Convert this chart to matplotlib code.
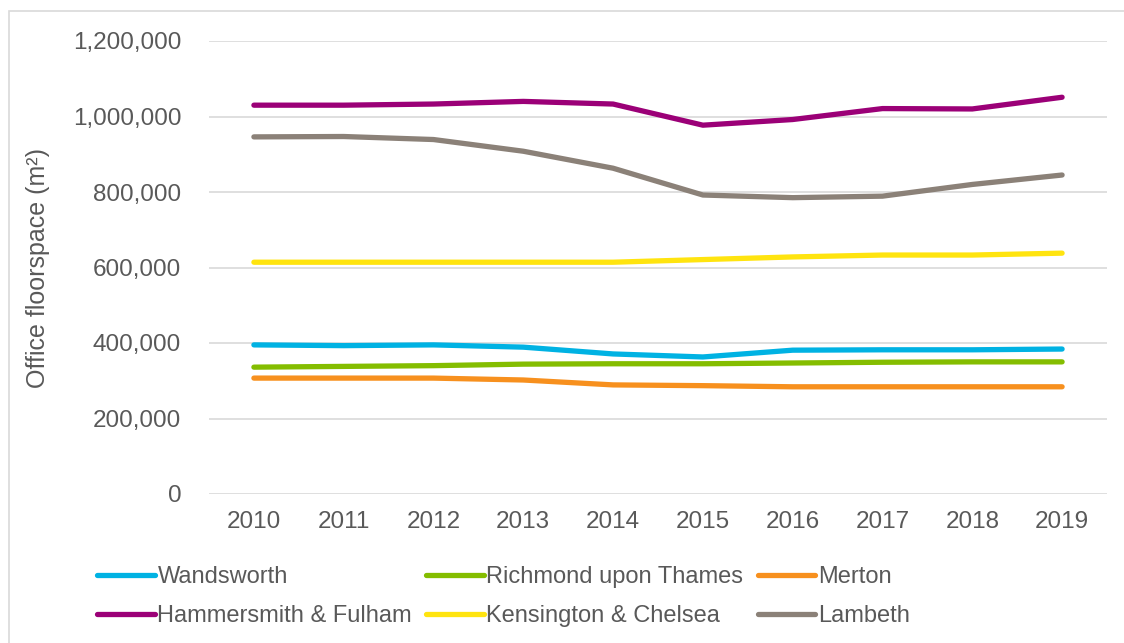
import matplotlib
matplotlib.use('Agg')
from matplotlib import pyplot as plt
from matplotlib.patches import Rectangle
from matplotlib.ticker import FuncFormatter

years = ['2010', '2011', '2012', '2013', '2014', '2015', '2016', '2017', '2018', '2019']

wandsworth = [395000, 393000, 395000, 389000, 371000, 363000, 381000, 382000, 382000, 384000]
richmond = [336000, 338000, 340000, 344000, 345000, 345000, 347000, 349000, 350000, 350000]
merton = [307000, 307000, 307000, 302000, 289000, 287000, 284000, 284000, 284000, 284000]
hammersmith = [1030000, 1030000, 1033000, 1040000, 1033000, 977000, 992000, 1021000, 1020000, 1051000]
kensington = [614000, 614000, 614000, 614000, 614000, 621000, 628000, 633000, 633000, 638000]
lambeth = [946000, 947000, 939000, 908000, 863000, 792000, 785000, 789000, 820000, 845000]

series = [
    ('Wandsworth', wandsworth, '#00B2E3'),
    ('Richmond upon Thames', richmond, '#84BD00'),
    ('Merton', merton, '#F7901E'),
    ('Hammersmith & Fulham', hammersmith, '#9B0077'),
    ('Kensington & Chelsea', kensington, '#FFE40F'),
    ('Lambeth', lambeth, '#8B8178'),
]

plt.rcParams['font.family'] = ['Liberation Sans', 'DejaVu Sans']
txt = '#595959'

fig = plt.figure(figsize=(11.24, 6.43), dpi=100)
ax = fig.add_axes([209/1124, 1-494/643, (1107-209)/1124, (494-41)/643])

# outer chart border (cropped on right and bottom)
fig.patches.append(Rectangle((9/1124, -0.1), 1.2, 1-11/643+0.1, transform=fig.transFigure,
                             fill=False, edgecolor='#D9D9D9', lw=1.2))

x = list(range(len(years)))
lines = []
for name, vals, col in series:
    ln, = ax.plot(x, vals, color=col, lw=3.8, solid_capstyle='round', label=name)
    lines.append(ln)

ax.set_xlim(-0.5, len(years)-0.5)
ax.set_ylim(0, 1200000)
ax.set_yticks(range(0, 1200001, 200000))
ax.yaxis.set_major_formatter(FuncFormatter(lambda v, p: '{:,.0f}'.format(v)))
ax.set_xticks(x)
ax.set_xticklabels(years)
ax.grid(axis='y', color='#D9D9D9', lw=1.2)
ax.set_axisbelow(True)
for s in ax.spines.values():
    s.set_visible(False)
ax.tick_params(length=0, labelsize=17.5, colors=txt, pad=20)
ax.tick_params(axis='x', pad=12)
ax.set_ylabel('Office floorspace (m²)', fontsize=18, color=txt, labelpad=16)

# legend fills column-wise, so reorder to read row-wise like the original
order = [0, 3, 1, 4, 2, 5]
leg = fig.legend([lines[i] for i in order], [series[i][0] for i in order],
                 loc='upper left', bbox_to_anchor=(76/1124, 1-545/643), ncol=3, frameon=False,
                 fontsize=17, handlelength=2.45, handletextpad=0.1, columnspacing=0.6,
                 labelspacing=0.7, labelcolor=txt)

fig.savefig('out.png', dpi=100, facecolor='white')
